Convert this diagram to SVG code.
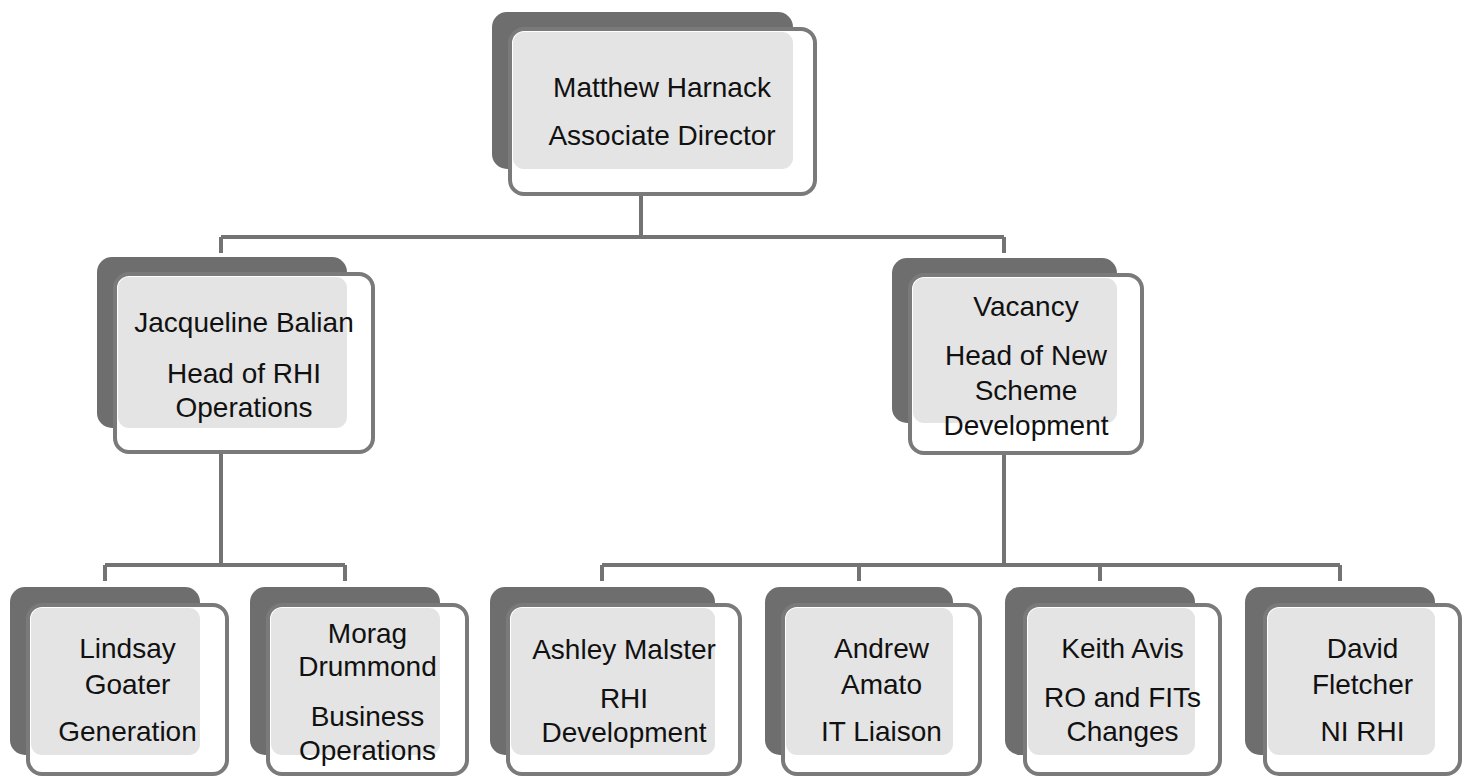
<svg xmlns="http://www.w3.org/2000/svg" width="1467" height="776" viewBox="0 0 1467 776">
<style>
.back{fill:#6e6e6e}
.front{fill:#ffffff;stroke:#7a7a7a;stroke-width:4}
.tex{fill:#e4e4e4}
.conn{stroke:#737373;stroke-width:4;fill:none}
text{font-family:"Liberation Sans",Arial,sans-serif;font-size:28px;fill:#111;text-anchor:middle}
</style>
<rect width="1467" height="776" fill="#ffffff"/>
<g id="connectors">
<path class="conn" d="M641 194 V237 M221 237 H1004 M221 237 V253 M1004 237 V253"/>
<path class="conn" d="M221 452 V565 M105 565 H345 M105 565 V581 M345 565 V581"/>
<path class="conn" d="M1004 453 V565 M602 565 H1340 M602 565 V581 M859 565 V581 M1100 565 V581 M1340 565 V581"/>
</g>
<g id="node-matthew">
<rect class="back" x="492" y="12" width="301" height="157" rx="15"/>
<rect class="front" x="510" y="29" width="305" height="165" rx="14"/>
<rect class="tex" x="513" y="32" width="280" height="137" rx="11"/>
<text x="662" y="97">Matthew Harnack</text>
<text x="662" y="145">Associate Director</text>
</g>
<g id="node-jacqueline">
<rect class="back" x="97" y="257" width="250" height="171" rx="15"/>
<rect class="front" x="115" y="274" width="258" height="178" rx="14"/>
<rect class="tex" x="118" y="277" width="229" height="151" rx="11"/>
<text x="244" y="332">Jacqueline Balian</text>
<text x="244" y="383">Head of RHI</text>
<text x="244" y="417">Operations</text>
</g>
<g id="node-vacancy">
<rect class="back" x="892" y="258" width="225" height="165" rx="15"/>
<rect class="front" x="910" y="275" width="232" height="178" rx="14"/>
<rect class="tex" x="913" y="278" width="204" height="145" rx="11"/>
<text x="1026" y="316">Vacancy</text>
<text x="1026" y="365">Head of New</text>
<text x="1026" y="400">Scheme</text>
<text x="1026" y="435">Development</text>
</g>
<g id="node-lindsay">
<rect class="back" x="10" y="587" width="190" height="168" rx="15"/>
<rect class="front" x="28" y="605" width="199" height="169" rx="14"/>
<rect class="tex" x="31" y="608" width="169" height="147" rx="11"/>
<text x="127.5" y="658">Lindsay</text>
<text x="127.5" y="694">Goater</text>
<text x="127.5" y="741">Generation</text>
</g>
<g id="node-morag">
<rect class="back" x="250" y="587" width="190" height="168" rx="15"/>
<rect class="front" x="268" y="605" width="199" height="169" rx="14"/>
<rect class="tex" x="271" y="608" width="169" height="147" rx="11"/>
<text x="367.5" y="643">Morag</text>
<text x="367.5" y="676">Drummond</text>
<text x="367.5" y="726">Business</text>
<text x="367.5" y="760">Operations</text>
</g>
<g id="node-ashley">
<rect class="back" x="490" y="587" width="225" height="168" rx="15"/>
<rect class="front" x="508" y="605" width="232" height="169" rx="14"/>
<rect class="tex" x="511" y="608" width="204" height="147" rx="11"/>
<text x="624" y="659">Ashley Malster</text>
<text x="624" y="708">RHI</text>
<text x="624" y="742">Development</text>
</g>
<g id="node-andrew">
<rect class="back" x="765" y="587" width="188" height="168" rx="15"/>
<rect class="front" x="783" y="605" width="197" height="169" rx="14"/>
<rect class="tex" x="786" y="608" width="167" height="147" rx="11"/>
<text x="881.5" y="658">Andrew</text>
<text x="881.5" y="694">Amato</text>
<text x="881.5" y="741">IT Liaison</text>
</g>
<g id="node-keith">
<rect class="back" x="1005" y="587" width="190" height="168" rx="15"/>
<rect class="front" x="1025" y="605" width="195" height="169" rx="14"/>
<rect class="tex" x="1028" y="608" width="167" height="147" rx="11"/>
<text x="1122.5" y="658">Keith Avis</text>
<text x="1122.5" y="707">RO and FITs</text>
<text x="1122.5" y="741">Changes</text>
</g>
<g id="node-david">
<rect class="back" x="1245" y="587" width="190" height="168" rx="15"/>
<rect class="front" x="1265" y="605" width="195" height="169" rx="14"/>
<rect class="tex" x="1268" y="608" width="167" height="147" rx="11"/>
<text x="1362.5" y="658">David</text>
<text x="1362.5" y="694">Fletcher</text>
<text x="1362.5" y="741">NI RHI</text>
</g>
</svg>
